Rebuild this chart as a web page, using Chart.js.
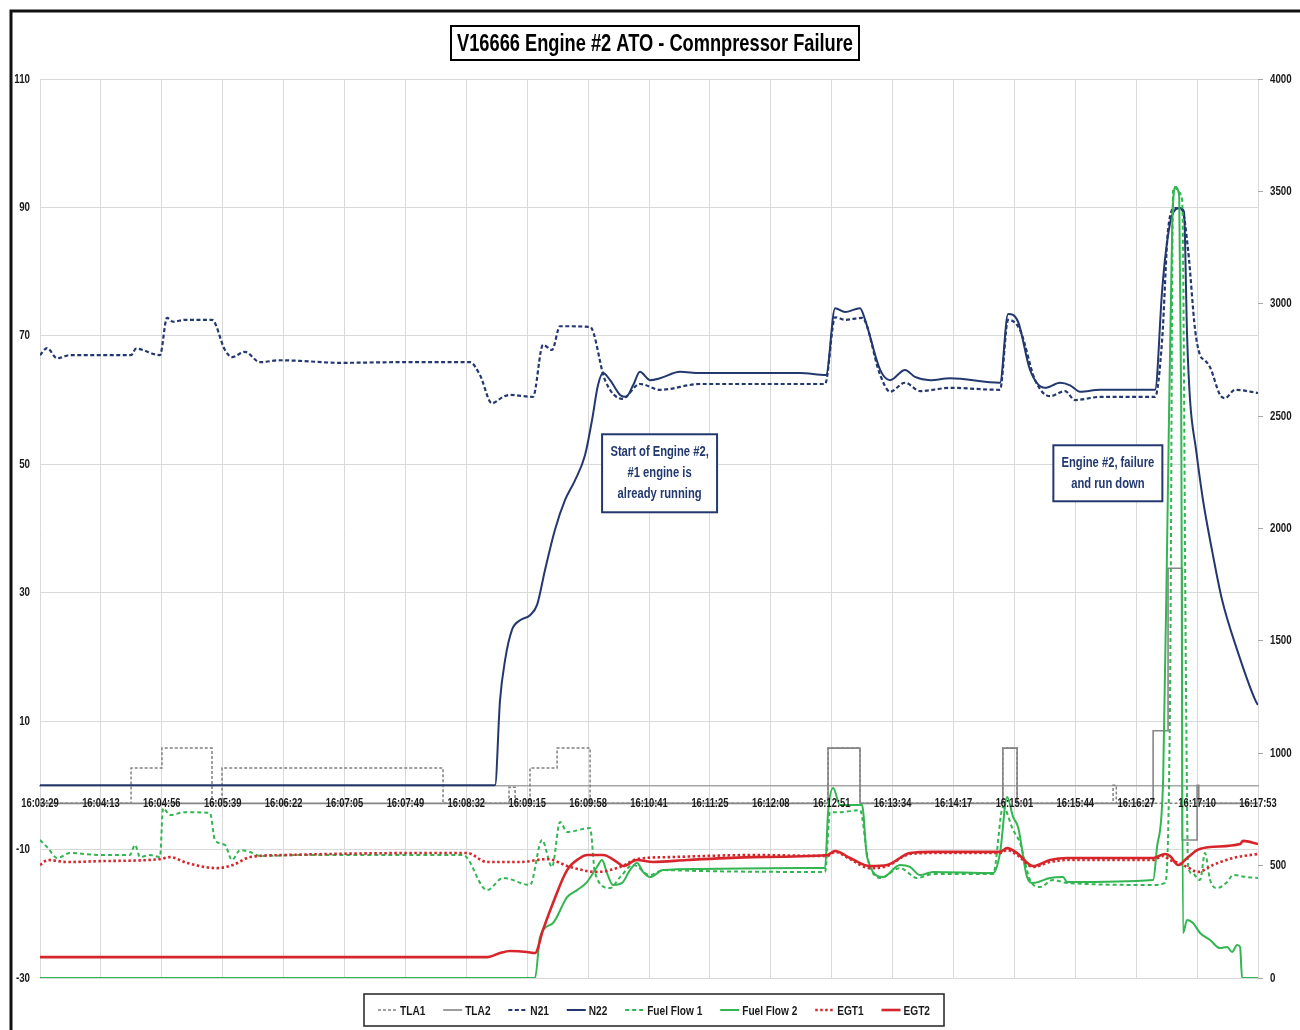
<!DOCTYPE html>
<html><head><meta charset="utf-8">
<script src="https://cdn.jsdelivr.net/npm/chart.js@4.4.1/dist/chart.umd.min.js"></script>
<style>html,body{margin:0;padding:0;background:#fff;}canvas{display:block;}</style>
</head><body>
<canvas id="c" width="1300" height="1030"></canvas>
<script>
const FONT = "'Liberation Sans', Arial, sans-serif";

// ---- data (x = seconds after 16:03:29) ----
const timeLabels = ['16:03:29','16:04:13','16:04:56','16:05:39','16:06:22','16:07:05','16:07:49','16:08:32','16:09:15','16:09:58','16:10:41','16:11:25','16:12:08','16:12:51','16:13:34','16:14:17','16:15:01','16:15:44','16:16:27','16:17:10','16:17:53'];
const leftTicks = [-30, -10, 10, 30, 50, 70, 90, 110];
const rightTicks = [0, 500, 1000, 1500, 2000, 2500, 3000, 3500, 4000];
const seriesNames = ['TLA1','TLA2','N21','N22','Fuel Flow 1','Fuel Flow 2','EGT1','EGT2'];

const TLA1 = [[0,-2.8],[64.6,-2.8],[64.6,2.7],[86.5,2.7],[86.5,5.8],[122,5.8],[122,-2.8],[129.1,-2.8],[129.1,2.7],[285.9,2.7],[285.9,-2.8],[332.7,-2.8],[332.7,-0.3],[337,-0.3],[337,-2.8],[347.6,-2.8],[347.6,2.7],[366.8,2.7],[366.8,5.8],[390.2,5.8],[390.2,-2.8],[559,-2.8],[559,5.8],[581.7,5.8],[581.7,-2.8],[683,-2.8],[683,5.8],[693.1,5.8],[693.1,-2.8],[761.2,-2.8],[761.2,0],[763.5,0],[763.5,-2.8],[864,-2.8]];
const TLA2 = [[0,-2.8],[559,-2.8],[559,5.8],[581.7,5.8],[581.7,-2.8],[683,-2.8],[683,5.8],[693.1,5.8],[693.1,-2.8],[789.6,-2.8],[789.6,8.5],[800.2,8.5],[800.2,33.8],[810.2,33.8],[810.2,-8.5],[820.8,-8.5],[820.8,0],[822,0],[822,-2.8],[864,-2.8]];
const N21 = [[0,67.0],[5,68.1],[12.1,66.5],[21.3,67.0],[64.6,67.0],[68.1,68.0],[85.1,67.0],[90.1,72.8],[94.4,72.2],[102.9,72.5],[122,72.5],[131.2,67.8],[136.2,66.7],[145.4,67.5],[156.1,65.9],[170.3,66.2],[184.4,66.1],[212.8,65.8],[255.4,65.9],[305,65.9],[312.1,63.9],[320.6,59.5],[328.5,60.5],[333.4,60.8],[349.7,60.5],[356.8,68.6],[363.2,67.8],[368.9,71.5],[390.2,71.4],[400.8,63.1],[412.9,60.2],[425.6,62.5],[439.8,61.6],[468.2,62.5],[556.9,62.5],[564,72.9],[571.1,72.5],[583.1,72.8],[596,63.9],[603,61.3],[613.6,62.7],[624.3,61.4],[645.6,61.9],[681,61.6],[686.7,72.5],[695.2,70.9],[705.9,63.1],[716.5,60.6],[727.1,61.4],[734.2,60.0],[752,60.5],[791,60.5],[796,69.4],[800.2,86.5],[805.2,89.9],[810.2,89.6],[814.4,83.4],[819.4,70.9],[822.9,67.0],[826.4,66.2],[830,65.1],[837.1,60.8],[840.6,60.3],[847.7,61.6],[864,61.1]];
const N22 = [[0,0],[322.8,0],[326.3,13.2],[329.9,19.5],[334.8,24.2],[340.5,25.7],[347.6,26.5],[352.6,28.1],[358.2,33.5],[365.3,39.8],[372.4,44.4],[379.5,47.5],[386.6,51.4],[391.6,56.9],[395.8,62.3],[399.4,64.2],[404.4,63.1],[411.5,60.8],[415.7,60.5],[420.7,62.3],[425.6,64.4],[432.7,63.1],[439.8,63.4],[454,64.4],[468.2,64.2],[539.1,64.2],[557.6,63.9],[564,74.3],[571.1,73.7],[581.7,74.3],[585.3,72.5],[596,64.7],[603,63.1],[613.6,64.7],[620.7,63.6],[631.4,63.1],[645.6,63.4],[681,62.7],[686.7,73.4],[693.8,72.2],[702.3,64.7],[712.9,61.9],[723.6,62.7],[730.7,62.3],[737.8,61.3],[752,61.6],[791,61.6],[796,77.1],[798.8,83.4],[803.1,88.8],[808.8,89.9],[811.5,89.3],[813.7,70],[815.8,60],[820.1,52.2],[825,44.4],[831.4,36.6],[838.5,28.9],[849.2,21.1],[862,13.3],[864,12.5]];
const FF1 = [[0,614],[5.7,578],[12.1,534],[21.3,556],[42.6,547],[63.8,547],[67.4,592],[70.9,538],[78,547],[85.1,538],[87.3,756],[92.2,725],[102.9,738],[120.6,734],[124.1,614],[131.2,592],[136.2,525],[141.9,569],[149,561],[156.1,543],[184.4,547],[255.4,547],[300.1,547],[317.1,391],[328.5,445],[347.6,414],[356.1,614],[363.2,494],[368.9,694],[373.9,650],[390.2,667],[393.7,467],[404.4,400],[411.5,449],[420.7,503],[432.7,458],[442,480],[468.2,476],[539.1,472],[556.9,472],[560.4,738],[567.5,738],[581.7,747],[587.4,525],[596,445],[610.1,489],[622.1,445],[633.5,463],[676.1,463],[683.2,761],[690.3,658],[695.2,601],[702.3,436],[709.4,405],[718.6,436],[728.6,423],[789.6,414],[798.1,423],[801.6,1237],[803.8,3506],[805.2,3519],[807.4,3497],[810.2,3461],[813,1237],[814.4,494],[817.2,467],[822.9,436],[826.4,556],[830,436],[834.9,400],[842.1,427],[846.3,458],[856.2,449],[864,445]];
const FF2 = [[0,0],[351.2,0],[354.7,182],[363.9,245],[373.9,360],[381,391],[388,427],[395.1,494],[398.7,525],[402.2,467],[406.5,414],[412.9,423],[418.5,480],[423.5,512],[427.8,472],[432.7,449],[442,480],[468.2,485],[539.1,489],[556.9,489],[559,734],[562.6,845],[567.5,770],[583.1,770],[586.7,538],[598,449],[610.1,503],[617.2,494],[624.3,458],[633.5,472],[676.1,467],[681,556],[686,805],[690.3,716],[693.8,672],[700.2,449],[704.4,423],[716.5,445],[725.7,449],[728.6,427],[789.6,436],[792.4,583],[796.7,881],[800.2,2216],[803.1,3328],[805.2,3519],[808.1,3484],[809.5,2572],[810.8,200],[813.7,258],[817.9,245],[822.9,200],[830,169],[837.1,133],[842.1,138],[845.6,116],[849.2,147],[851.3,138],[852.7,0],[864,0]];
const EGT1 = [[0,503],[5.7,525],[19.2,516],[42.6,520],[85.1,529],[92.2,538],[104.3,512],[125.6,489],[136.9,503],[149,538],[172.4,547],[269.6,556],[302.9,556],[317.1,516],[340.5,516],[359.7,529],[376,494],[395.1,472],[411.5,494],[423.5,529],[446.9,538],[505.8,547],[558.3,543],[564,561],[574.6,529],[588.8,489],[600.9,498],[617.2,552],[633.5,556],[681,556],[686,569],[693.1,547],[704.4,494],[716.5,516],[728.6,525],[789.6,525],[796.7,543],[801.6,525],[807.4,512],[813.7,494],[821.5,472],[832.1,503],[846.3,534],[864,552]];
const EGT2 = [[0,93],[317.1,93],[326.3,111],[333.4,120],[345.5,116],[351.2,111],[356.8,214],[363.9,334],[373.9,480],[383.1,534],[388,547],[399.4,547],[409.3,516],[413.6,498],[423.5,525],[434.9,516],[459,525],[505.8,538],[558.3,547],[564,565],[574.6,534],[588.8,498],[600.9,503],[617.2,556],[633.5,561],[681,561],[686,578],[693.1,556],[704.4,498],[716.5,525],[728.6,534],[789.6,534],[798.1,552],[801.6,543],[807.4,503],[813.7,534],[820.8,569],[830,583],[851.3,596],[853.4,610],[864,596]];

const titleText = 'V16666 Engine #2 ATO - Comnpressor Failure';
const note1 = ['Start of Engine #2,', '#1 engine is', 'already running'];
const note2 = ['Engine #2, failure', 'and run down'];

// ---- styles ----
const NAVY = '#22386e', GREEN = '#33b552', RED = '#d7262b';
const styles = [
  {c:'#808080', w:1.5, d:[3,2], ax:'y', step:true},
  {c:'#858585', w:1.6, d:[], ax:'y', step:true},
  {c:NAVY, w:2.2, d:[4,2.5], ax:'y'},
  {c:NAVY, w:2, d:[], ax:'y'},
  {c:GREEN, w:2, d:[4,3], ax:'y1'},
  {c:GREEN, w:2, d:[], ax:'y1'},
  {c:RED, w:2.6, d:[2.5,2.5], ax:'y1'},
  {c:RED, w:2.6, d:[], ax:'y1'}
];
const seriesData = [TLA1, TLA2, N21, N22, FF1, FF2, EGT1, EGT2];

const datasets = seriesData.map((arr, i) => ({
  label: seriesNames[i],
  data: arr.map(p => ({x: p[0], y: p[1]})),
  borderColor: styles[i].c,
  backgroundColor: styles[i].c,
  borderWidth: styles[i].w,
  borderDash: styles[i].d,
  yAxisID: styles[i].ax,
  pointRadius: 0,
  tension: 0,
  cubicInterpolationMode: styles[i].step ? 'default' : 'monotone',
  fill: false,
  order: 8 - i
}));

// narrow (Arial Narrow-like) text helper
function narrowText(ctx, s, x, y, opt) {
  ctx.save();
  ctx.font = `bold ${opt.size}px ${FONT}`;
  ctx.fillStyle = opt.color || '#222';
  ctx.textBaseline = 'middle';
  ctx.textAlign = opt.align || 'center';
  const sx = opt.fit ? Math.min(1, opt.fit / ctx.measureText(s).width) : (opt.sx || 0.8);
  ctx.translate(x, y);
  ctx.scale(sx, 1);
  ctx.fillText(s, 0, 0);
  ctx.restore();
}
function narrowWidth(ctx, s, size, sx) {
  ctx.save(); ctx.font = `bold ${size}px ${FONT}`;
  const w = ctx.measureText(s).width * sx; ctx.restore(); return w;
}

const decor = {
  id: 'decor',
  beforeDraw(chart) {
    const ctx = chart.ctx;
    ctx.save();
    ctx.fillStyle = '#fff';
    ctx.fillRect(0, 0, chart.width, chart.height);
    ctx.restore();
  },
  afterDatasetsDraw(chart) {
    const ctx = chart.ctx;
    const xs = chart.scales.x, yl = chart.scales.y, yr = chart.scales.y1;
    // axis tick labels
    const labY = yl.getPixelForValue(0) + 18;
    timeLabels.forEach((t, i) => narrowText(ctx, t, xs.getPixelForValue(i * 43.2), labY, {size: 12.5, sx: 0.75, color: '#1a1a1a'}));
    leftTicks.forEach(v => narrowText(ctx, String(v), 30, yl.getPixelForValue(v), {size: 13, sx: 0.75, align: 'right', color: '#1a1a1a'}));
    rightTicks.forEach(v => narrowText(ctx, String(v), 1270, yr.getPixelForValue(v), {size: 13, sx: 0.75, align: 'left', color: '#1a1a1a'}));
  },
  afterDraw(chart) {
    const ctx = chart.ctx;
    const xs = chart.scales.x, yl = chart.scales.y;
    ctx.save();
    // outer frame
    ctx.strokeStyle = '#111'; ctx.lineWidth = 3;
    ctx.beginPath(); ctx.moveTo(11, 1030); ctx.lineTo(11, 11); ctx.lineTo(1300, 11); ctx.stroke();
    // title
    const cx = 655, cy = 43, tw = 396;
    ctx.fillStyle = '#fff';
    ctx.fillRect(cx - tw/2 - 6, cy - 17, tw + 12, 34);
    ctx.strokeStyle = '#000'; ctx.lineWidth = 2;
    ctx.strokeRect(cx - tw/2 - 6, cy - 17, tw + 12, 34);
    narrowText(ctx, titleText, cx, cy + 1, {size: 24, fit: tw, color: '#000'});
    // notes
    function note(lines, sx, vy, bw, bh) {
      const px = xs.getPixelForValue(sx), py = yl.getPixelForValue(vy);
      ctx.fillStyle = '#fff';
      ctx.fillRect(px - bw/2, py - bh/2, bw, bh);
      ctx.strokeStyle = NAVY; ctx.lineWidth = 2;
      ctx.strokeRect(px - bw/2, py - bh/2, bw, bh);
      const lh = 21;
      lines.forEach((t, i) => narrowText(ctx, t, px, py - (lines.length - 1) * lh / 2 + i * lh, {size: 14, sx: 0.8, color: NAVY}));
    }
    note(note1, 439.5, 48.6, 115, 78);
    note(note2, 757.5, 48.6, 109, 56);
    // legend
    const lineLen = 19, gapLT = 3, sxL = 0.78, fs = 13;
    const widths = seriesNames.map(n => lineLen + gapLT + narrowWidth(ctx, n, fs, sxL));
    const boxL = 364, boxR = 944, padIn = 14;
    const sumW = widths.reduce((a, b) => a + b, 0);
    const gapItem = ((boxR - boxL - 2 * padIn) - sumW) / (seriesNames.length - 1);
    let x = boxL + padIn;
    const ly = 1010;
    ctx.strokeStyle = '#222'; ctx.lineWidth = 1.5; ctx.setLineDash([]);
    ctx.strokeRect(boxL, 994, boxR - boxL, 32);
    seriesNames.forEach((n, i) => {
      const s = styles[i];
      ctx.strokeStyle = s.c; ctx.lineWidth = s.w; ctx.setLineDash(s.d);
      ctx.beginPath(); ctx.moveTo(x, ly); ctx.lineTo(x + lineLen, ly); ctx.stroke();
      ctx.setLineDash([]);
      narrowText(ctx, n, x + lineLen + gapLT, ly + 1, {size: fs, sx: sxL, align: 'left', color: '#1a1a1a'});
      x += widths[i] + gapItem;
    });
    ctx.restore();
  }
};

new Chart(document.getElementById('c'), {
  type: 'line',
  data: { datasets },
  options: {
    responsive: false,
    animation: false,
    devicePixelRatio: 1,
    layout: { padding: { left: 10, right: 0, top: 79, bottom: 52 } },
    plugins: { legend: { display: false }, title: { display: false }, tooltip: { enabled: false } },
    scales: {
      x: {
        type: 'linear', min: 0, max: 864,
        position: { y: 0 },
        afterBuildTicks: s => { s.ticks = timeLabels.map((_, i) => ({ value: i * 43.2 })); },
        ticks: { display: false, autoSkip: false, maxRotation: 0 },
        grid: { color: '#d9d9d9', lineWidth: 1, drawTicks: false },
        border: { color: '#a6a6a6', width: 1.5 }
      },
      y: {
        type: 'linear', position: 'left', min: -30, max: 110,
        ticks: { display: false, stepSize: 20 },
        grid: { color: '#d9d9d9', lineWidth: 1, drawTicks: false },
        border: { display: false },
        afterFit: s => { s.width = 30; }
      },
      y1: {
        type: 'linear', position: 'right', min: 0, max: 4000,
        ticks: { display: false, stepSize: 500 },
        grid: { drawOnChartArea: false, drawTicks: true, tickLength: 5, color: '#a6a6a6' },
        border: { display: false },
        afterFit: s => { s.width = 42; }
      }
    }
  },
  plugins: [decor]
});
</script>
</body></html>
